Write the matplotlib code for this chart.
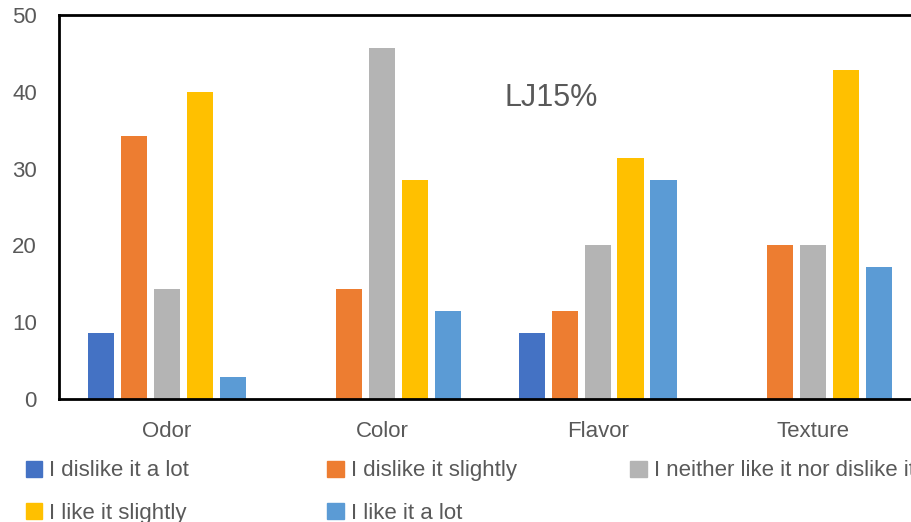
import numpy as np
import matplotlib.pyplot as plt
from matplotlib.patches import Patch

categories = ['Odor', 'Color', 'Flavor', 'Texture']
series = ['I dislike it a lot', 'I dislike it slightly',
          'I neither like it nor dislike it', 'I like it slightly', 'I like it a lot']
colors = ['#4472C4', '#ED7D31', '#B4B4B4', '#FFC000', '#5B9BD5']

dislike_lot = [8.57, 0, 8.57, 0]
dislike_slightly = [34.29, 14.29, 11.43, 20.0]
neither = [14.29, 45.71, 20.0, 20.0]
like_slightly = [40.0, 28.57, 31.43, 42.86]
like_lot = [2.86, 11.43, 28.57, 17.14]
values = [dislike_lot, dislike_slightly, neither, like_slightly, like_lot]

txt = '#595959'
plt.rcParams['font.family'] = ['Liberation Sans', 'DejaVu Sans']

fig = plt.figure(figsize=(9.12, 5.22), dpi=100)
ax = fig.add_axes([0.0647, 0.2356, 0.945, 0.7354])

x = np.arange(len(categories))
step = 0.153
for i, v in enumerate(values):
    ax.bar(x + (i - 2) * step, v, width=0.122, color=colors[i], label=series[i])

ax.set_xlim(-0.5, 3.5)
ax.set_ylim(0, 50)
ax.set_yticks(range(0, 51, 10))
ax.set_xticks(x)
ax.set_xticklabels(categories)
ax.tick_params(length=0, labelsize=16, colors=txt)
ax.tick_params(axis='x', pad=16)
ax.tick_params(axis='y', pad=16)
for s in ['left', 'top', 'bottom']:
    ax.spines[s].set_linewidth(2)
    ax.spines[s].set_color('black')
ax.spines['right'].set_visible(False)

fig.text(0.604, 0.813, 'LJ15%', ha='center', va='center', fontsize=22, color=txt)

# legend, row-major like the original
xs = [0.028, 0.359, 0.691]
rows = [[0, 3], [1, 4], [2]]
for cx, idx in zip(xs, rows):
    handles = [Patch(color=colors[i], label=series[i]) for i in idx]
    fig.legend(handles=handles, loc='upper left', bbox_to_anchor=(cx, 0.118),
               frameon=False, fontsize=16, labelcolor=txt, handlelength=0.75,
               handleheight=0.75, handletextpad=0.3, labelspacing=0.95,
               borderpad=0, borderaxespad=0)

fig.savefig('out.png', dpi=100)
